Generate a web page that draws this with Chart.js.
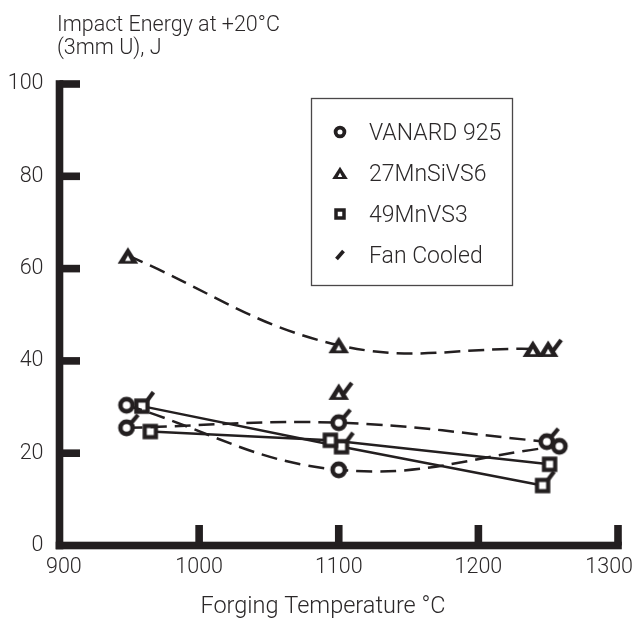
<!DOCTYPE html>
<html>
<head>
<meta charset="utf-8">
<script src="https://cdn.jsdelivr.net/npm/chart.js@4.4.1/dist/chart.umd.min.js"></script>
<style>
  html, body { margin: 0; padding: 0; background: #fff; }
  canvas { display: block; }
</style>
</head>
<body>
<canvas id="chart" width="637" height="622"></canvas>
<script>
// Charpy impact energy (+20 °C, 3 mm U notch) against forging temperature
const xTicks = [900, 1000, 1100, 1200, 1300];
const yTicks = [0, 20, 40, 60, 80, 100];

const vanardTemp = [948, 1100, 1258];
const vanardEnergy = [30.4, 16.4, 21.5];
const vanardFanTemp = [948, 1100, 1249];
const vanardFanEnergy = [25.5, 26.6, 22.5];

const mnsiTemp = [949, 1100, 1239];
const mnsiEnergy = [62.8, 43.4, 42.6];
const mnsiFanTemp = [1100, 1250];
const mnsiFanEnergy = [33.3, 42.6];

const mnvTemp = [965, 1094, 1251];
const mnvEnergy = [24.7, 22.8, 17.6];
const mnvFanTemp = [959, 1102, 1246];
const mnvFanEnergy = [30.2, 21.4, 13.0];

const legendLabels = ['VANARD 925', '27MnSiVS6', '49MnVS3', 'Fan Cooled'];
const yTitleLines = ['Impact Energy at +20°C', '(3mm U), J'];
const xTitle = 'Forging Temperature °C';

const INK = '#231f20';
const TEXT = '#2b2829';
const FONT = 'Roboto, "Liberation Sans", sans-serif';
const DASH = [16, 8];

// ---- marker glyphs -------------------------------------------------------
// geometry for one size of glyph (plot or key)
const PLOT_GLYPH = { r: 6.1, ring: 4.6, sq: 5.6, sqw: 4.2, tw: 10.3, tt: 8.5, tb: 8, inner: 2.3 };
const KEY_GLYPH  = { r: 4.4, ring: 3.8, sq: 4.0, sqw: 3.5, tw: 7.8, tt: 6.3, tb: 6, inner: 1.8 };

function drawShape(ctx, shape, cx, cy, p) {
  ctx.strokeStyle = INK;
  ctx.fillStyle = INK;
  if (shape === 'circle') {
    ctx.lineWidth = p.ring;
    ctx.beginPath();
    ctx.arc(cx, cy, p.r, 0, Math.PI * 2);
    ctx.fillStyle = '#fff';
    ctx.fill();
    ctx.stroke();
  } else if (shape === 'square') {
    const h = p.sq;
    ctx.lineWidth = p.sqw;
    ctx.fillStyle = '#fff';
    ctx.fillRect(cx - h, cy - h, 2 * h, 2 * h);
    ctx.strokeRect(cx - h, cy - h, 2 * h, 2 * h);
  } else if (shape === 'triangle') {
    ctx.beginPath();
    ctx.moveTo(cx, cy - p.tt);
    ctx.lineTo(cx + p.tw, cy + p.tb);
    ctx.lineTo(cx - p.tw, cy + p.tb);
    ctx.closePath();
    ctx.fill();
    const k = p.inner;
    ctx.fillStyle = '#fff';
    ctx.beginPath();
    ctx.moveTo(cx, cy + p.tb * 0.55 - 2 * k);
    ctx.lineTo(cx + k * 1.25, cy + p.tb * 0.55 + k * 0.4);
    ctx.lineTo(cx - k * 1.25, cy + p.tb * 0.55 + k * 0.4);
    ctx.closePath();
    ctx.fill();
  }
}

// short bar marking a fan-cooled specimen
const SLASH = {
  circle:   [4.8, -5.2, 11.5, -13],
  square:   [5.2, -5.6, 11.5, -14],
  triangle: [4, 3, 13, -9]
};
function drawSlash(ctx, cx, cy, seg, w) {
  ctx.strokeStyle = INK;
  ctx.lineWidth = w;
  ctx.lineCap = 'butt';
  ctx.beginPath();
  ctx.moveTo(cx + seg[0], cy + seg[1]);
  ctx.lineTo(cx + seg[2], cy + seg[3]);
  ctx.stroke();
}

function makeMarker(shape, fan) {
  const c = document.createElement('canvas');
  c.width = 40; c.height = 40;
  const g = c.getContext('2d');
  drawShape(g, shape, 20, 20, PLOT_GLYPH);
  if (fan) drawSlash(g, 20, 20, SLASH[shape], 4.2);
  return c;
}

function series(xs, ys) {
  return xs.map((x, i) => ({ x: x, y: ys[i] }));
}

const base = {
  borderColor: INK,
  backgroundColor: INK,
  borderWidth: 2.5,
  pointRadius: 8,
  pointHoverRadius: 8,
  fill: false
};

const datasets = [
  Object.assign({}, base, { label: 'VANARD 925', data: series(vanardTemp, vanardEnergy),
    showLine: true, borderDash: DASH, tension: 0.4, pointStyle: makeMarker('circle', false) }),
  Object.assign({}, base, { label: 'VANARD 925 fan cooled', data: series(vanardFanTemp, vanardFanEnergy),
    showLine: true, borderDash: DASH, tension: 0.4, pointStyle: makeMarker('circle', true) }),
  Object.assign({}, base, { label: '27MnSiVS6', data: series(mnsiTemp, mnsiEnergy),
    showLine: true, borderDash: DASH, tension: 0.4, pointStyle: makeMarker('triangle', false) }),
  Object.assign({}, base, { label: '27MnSiVS6 fan cooled', data: series(mnsiFanTemp, mnsiFanEnergy),
    showLine: false, pointStyle: makeMarker('triangle', true) }),
  Object.assign({}, base, { label: '49MnVS3', data: series(mnvTemp, mnvEnergy),
    showLine: true, tension: 0, pointStyle: makeMarker('square', false) }),
  Object.assign({}, base, { label: '49MnVS3 fan cooled', data: series(mnvFanTemp, mnvFanEnergy),
    showLine: true, tension: 0, pointStyle: makeMarker('square', true) })
];

// ---- axes frame, inward ticks, titles and key --------------------------
const decorations = {
  id: 'decorations',
  beforeDatasetsDraw(chart) {
    const { ctx, scales: { x, y } } = chart;
    const L = x.getPixelForValue(xTicks[0]);
    const R = x.getPixelForValue(xTicks[xTicks.length - 1]);
    const T = y.getPixelForValue(yTicks[yTicks.length - 1]);
    const B = y.getPixelForValue(yTicks[0]);
    const w = 7.6, h = w / 2, tick = 20.5;
    ctx.save();
    ctx.fillStyle = INK;
    ctx.fillRect(L - h, T - h, w, B - T + w);
    ctx.fillRect(L - h, B - h, R - L + w, w);
    yTicks.slice(1).forEach(v => {
      ctx.fillRect(L, y.getPixelForValue(v) - h, tick, w);
    });
    xTicks.slice(1).forEach(v => {
      ctx.fillRect(x.getPixelForValue(v) - h, B - tick, w, tick);
    });
    ctx.restore();
  },
  afterDraw(chart) {
    const { ctx, scales: { x } } = chart;
    ctx.save();
    ctx.fillStyle = TEXT;
    ctx.font = '300 21.5px ' + FONT;
    ctx.textBaseline = 'alphabetic';

    // x tick labels, kept inside the canvas
    ctx.textAlign = 'left';
    xTicks.forEach(v => {
      const t = String(v);
      const tw = ctx.measureText(t).width;
      let left = x.getPixelForValue(v) - tw / 2;
      left = Math.max(46, Math.min(left, 633 - tw));
      ctx.fillText(t, left, 573);
    });

    // value axis title, two lines above the plot
    ctx.fillText(yTitleLines[0], 57, 31);
    ctx.fillText(yTitleLines[1], 57, 54);

    // category axis title
    ctx.font = '300 23.5px ' + FONT;
    ctx.textAlign = 'center';
    ctx.fillText(xTitle, 323, 613);

    // key
    ctx.strokeStyle = '#4a4748';
    ctx.lineWidth = 1.3;
    ctx.strokeRect(311.5, 98.5, 201, 187);
    const rows = [132, 173, 214, 255];
    const shapes = ['circle', 'triangle', 'square'];
    shapes.forEach((s, i) => drawShape(ctx, s, 340, rows[i], KEY_GLYPH));
    drawSlash(ctx, 340, rows[3], [-3.5, 4, 3.5, -4], 3.8);
    ctx.font = '300 23px ' + FONT;
    ctx.fillStyle = TEXT;
    ctx.textAlign = 'left';
    legendLabels.forEach((t, i) => ctx.fillText(t, 369, rows[i] + 8));
    ctx.restore();
  }
};

new Chart(document.getElementById('chart'), {
  type: 'line',
  data: { datasets: datasets },
  options: {
    responsive: false,
    animation: false,
    events: [],
    layout: { padding: { top: 84, right: 19, left: 0, bottom: 0 } },
    plugins: { legend: { display: false }, tooltip: { enabled: false } },
    scales: {
      x: {
        type: 'linear',
        min: xTicks[0],
        max: xTicks[xTicks.length - 1],
        ticks: { stepSize: 100, display: false },
        grid: { display: false, drawTicks: false },
        border: { display: false },
        afterFit(s) { s.height = 76.5; s.paddingLeft = 0; s.paddingRight = 0; }
      },
      y: {
        type: 'linear',
        min: yTicks[0],
        max: yTicks[yTicks.length - 1],
        ticks: {
          stepSize: 20,
          padding: 16,
          color: TEXT,
          font: { family: FONT, size: 21.5, weight: '300' }
        },
        grid: { display: false, drawTicks: false },
        border: { display: false },
        afterFit(s) { s.width = 59.5; s.paddingTop = 0; s.paddingBottom = 0; }
      }
    }
  },
  plugins: [decorations]
});
</script>
</body>
</html>
